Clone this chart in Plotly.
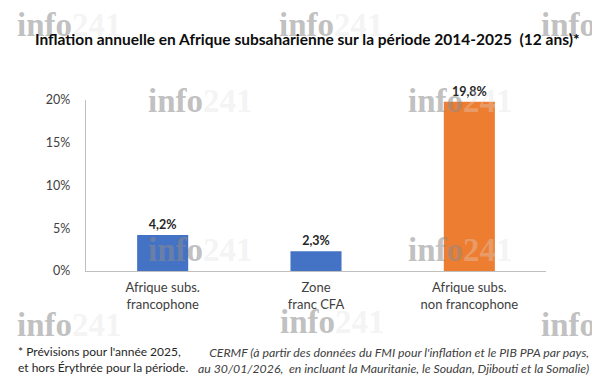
import plotly.graph_objects as go

categories = ["Afrique subs.<br>francophone", "Zone<br>franc CFA", "Afrique subs.<br>non francophone"]
inflation = [4.2, 2.3, 19.8]
bar_colors = ["#4472C4", "#4472C4", "#ED7D31"]
y_ticks = [0, 5, 10, 15, 20]
y_tick_labels = ["0%", "5%", "10%", "15%", "20%"]

title_text = "Inflation annuelle en Afrique subsaharienne sur la période 2014-2025  (12 ans)*"
note_left = "* Prévisions pour l'année 2025,<br>et hors Érythrée pour la période."
note_right = ("CERMF (à partir des données du FMI pour l'inflation et le PIB PPA par pays,<br>"
              "au 30/01/2026,  en incluant la Mauritanie, le Soudan, Djibouti et la Somalie)")

FONT = "Lato"
OFF = 8  # page body margin in the browser

# plot area in reference pixels
PL, PR, PT, PB = 86, 546, 100, 271.5

fig = go.Figure(go.Bar(
    x=categories, y=inflation,
    marker=dict(color=bar_colors, line=dict(width=0)),
    texttemplate="%{y:.1f}%", textposition="outside", cliponaxis=False,
    textfont=dict(family=FONT, size=12.5, color="#262626", weight="bold"),
    width=0.333,
))

W, H = 600 - OFF, 378 - OFF
fig.update_layout(
    width=W, height=H,
    margin=dict(l=PL - OFF, r=W - (PR - OFF), t=PT - OFF, b=H - (PB - OFF), pad=0),
    paper_bgcolor="white", plot_bgcolor="white",
    separators=",.",
    showlegend=False,
    font=dict(family=FONT, color="#404040", size=12.5),
    xaxis=dict(showline=True, linecolor="#bfbfbf", linewidth=1.3, ticks="",
               ticklabelstandoff=4,
               tickfont=dict(family=FONT, size=13, color="#404040"), fixedrange=True),
    yaxis=dict(range=[0, 20], tickmode="array", tickvals=y_ticks, ticktext=y_tick_labels,
               showgrid=False, zeroline=False, showline=True, linecolor="#bfbfbf",
               linewidth=1.3, ticks="", ticklabelstandoff=12,
               tickfont=dict(family=FONT, size=12.5, color="#404040")),
)

def px2paper(px, py):
    return (px - PL) / (PR - PL), (PB - py) / (PB - PT)

anns = []
wm_positions = [(69, 25), (331, 25), (593, 25), (200, 101), (460, 101),
                (200, 250), (460, 250), (69, 326), (332, 323), (593, 326)]
for (px, py) in wm_positions:
    xx, yy = px2paper(px, py)
    anns.append(dict(
        xref="paper", yref="paper", x=xx, y=yy,
        xanchor="center", yanchor="middle", showarrow=False,
        text='<b>info</b><b><span style="color:rgba(222,222,222,0.6)">241</span></b>',
        font=dict(family="Liberation Serif", size=33, color="rgba(140,140,140,0.55)"),
    ))

xx, yy = px2paper(307, 39)
anns.append(dict(xref="paper", yref="paper", x=xx, y=yy,
                 xanchor="center", yanchor="middle", showarrow=False, text=title_text,
                 font=dict(family=FONT, size=15.5, color="#0d0d0d", weight="bold")))
xx, yy = px2paper(16, 360)
anns.append(dict(xref="paper", yref="paper", x=xx, y=yy,
                 xanchor="left", yanchor="middle", showarrow=False, align="left",
                 text=note_left, font=dict(family=FONT, size=12, color="#262626")))
xx, yy = px2paper(591, 361)
anns.append(dict(xref="paper", yref="paper", x=xx, y=yy,
                 xanchor="right", yanchor="middle", showarrow=False, align="right",
                 text="<i>" + note_right + "</i>",
                 font=dict(family=FONT, size=12.3, color="#404040")))
fig.update_layout(annotations=anns)

fig.write_html("out.html")
